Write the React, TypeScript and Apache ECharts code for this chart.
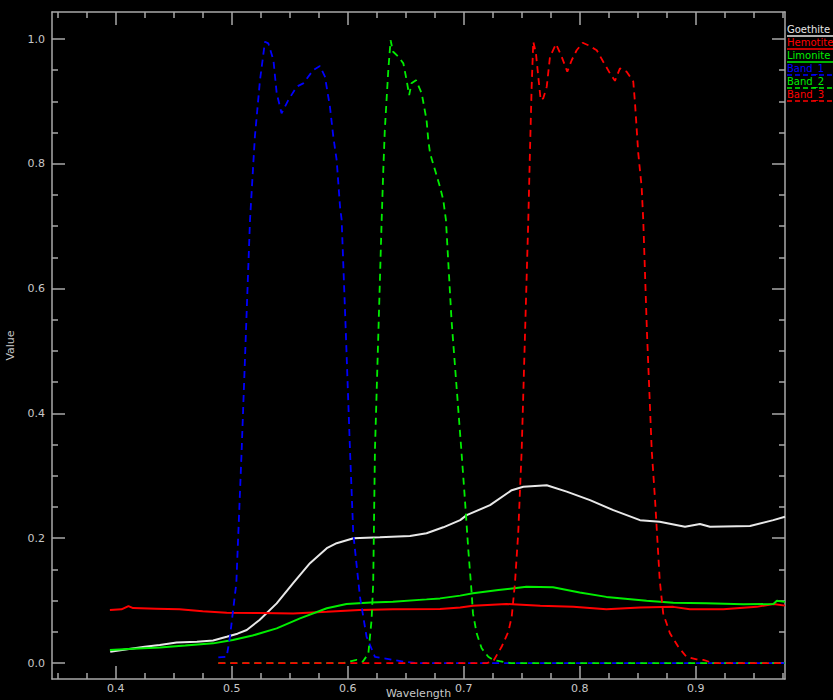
import React, { useEffect, useRef } from "react";
import * as echarts from "echarts";

// ---- data ----
const SERIES_NAMES = ["Goethite", "Hemotite", "Limonite", "Band_1", "Band_2", "Band_3"];

const X_MAJOR = [0.4, 0.5, 0.6, 0.7, 0.8, 0.9];
const X_MINOR = [0.35, 0.375, 0.425, 0.45, 0.475, 0.525, 0.55, 0.575, 0.625, 0.65, 0.675, 0.725, 0.75, 0.775, 0.825, 0.85, 0.875, 0.925, 0.95, 0.975];
const Y_MAJOR = [0.0, 0.2, 0.4, 0.6, 0.8, 1.0];
const Y_MINOR = [0.05, 0.1, 0.15, 0.25, 0.3, 0.35, 0.45, 0.5, 0.55, 0.65, 0.7, 0.75, 0.85, 0.9, 0.95];
const X_RANGE = [0.3451, 0.977];
const Y_RANGE = [-0.0256, 1.0433];

const GOETHITE = [
  [0.3953, 0.018], [0.41, 0.022], [0.425, 0.026], [0.438, 0.029], [0.4525, 0.033], [0.47, 0.034],
  [0.484, 0.036], [0.4957, 0.042], [0.505, 0.047], [0.513, 0.053], [0.524, 0.069], [0.5388, 0.0956],
  [0.553, 0.128], [0.5675, 0.16], [0.582, 0.184], [0.5905, 0.192], [0.605, 0.2], [0.6278, 0.2014],
  [0.6537, 0.2035], [0.668, 0.208], [0.6824, 0.2175], [0.697, 0.229], [0.7026, 0.237], [0.7227, 0.253],
  [0.7414, 0.277], [0.7514, 0.2826], [0.7716, 0.285], [0.7888, 0.2746], [0.8089, 0.261], [0.829, 0.245],
  [0.852, 0.229], [0.869, 0.2265], [0.8908, 0.2185], [0.9037, 0.2228], [0.9123, 0.2185], [0.9468, 0.2196],
  [0.9669, 0.229], [0.977, 0.2345],
];

const HEMOTITE = [
  [0.395, 0.085], [0.405, 0.086], [0.411, 0.0913], [0.415, 0.088], [0.435, 0.087], [0.455, 0.086],
  [0.475, 0.083], [0.4957, 0.0806], [0.525, 0.08], [0.553, 0.0795], [0.582, 0.082], [0.61, 0.085],
  [0.639, 0.086], [0.6796, 0.0865], [0.697, 0.089], [0.708, 0.0918], [0.737, 0.0946], [0.766, 0.0918],
  [0.7945, 0.09], [0.823, 0.086], [0.852, 0.089], [0.8807, 0.09], [0.895, 0.086], [0.9238, 0.086],
  [0.9526, 0.09], [0.967, 0.0946], [0.977, 0.092],
];

const LIMONITE = [
  [0.395, 0.021], [0.415, 0.023], [0.438, 0.025], [0.46, 0.028], [0.484, 0.0315], [0.501, 0.037],
  [0.518, 0.044], [0.5388, 0.0555], [0.5589, 0.0716], [0.582, 0.0877], [0.599, 0.0946], [0.62, 0.097],
  [0.639, 0.0983], [0.668, 0.102], [0.6796, 0.1036], [0.697, 0.108], [0.708, 0.1117], [0.73, 0.117],
  [0.754, 0.1223], [0.777, 0.1213], [0.8, 0.113], [0.823, 0.106], [0.8577, 0.0998], [0.8807, 0.0966],
  [0.909, 0.0956], [0.941, 0.094], [0.967, 0.0946], [0.97, 0.0998], [0.977, 0.098],
];

const BAND_1 = [
  [0.4885, 0.009], [0.4957, 0.01], [0.4985, 0.042], [0.504, 0.128], [0.5086, 0.341], [0.5158, 0.71],
  [0.52, 0.8435], [0.5244, 0.934], [0.5287, 0.9957], [0.5316, 0.993], [0.536, 0.966], [0.5388, 0.913],
  [0.543, 0.881], [0.5488, 0.902], [0.556, 0.9236], [0.5617, 0.929], [0.5703, 0.9503], [0.5761, 0.9567],
  [0.5804, 0.9396], [0.5847, 0.8915], [0.5876, 0.8435], [0.5905, 0.806], [0.5934, 0.7316], [0.5948, 0.71],
  [0.598, 0.55], [0.602, 0.341], [0.6048, 0.208], [0.6106, 0.106], [0.6163, 0.042], [0.6235, 0.01],
  [0.6365, 0.006], [0.648, 0.002], [0.66, 0], [0.977, 0],
];

const BAND_2 = [
  [0.4885, 0], [0.596, 0], [0.6077, 0.005], [0.613, 0.002], [0.6178, 0.015], [0.6206, 0.069],
  [0.622, 0.128], [0.6235, 0.341], [0.6293, 0.71], [0.6307, 0.79], [0.632, 0.854], [0.635, 0.95],
  [0.637, 0.998], [0.639, 0.98], [0.6435, 0.972], [0.648, 0.961], [0.6508, 0.934], [0.653, 0.91],
  [0.655, 0.929], [0.6589, 0.934], [0.6638, 0.913], [0.668, 0.87], [0.6695, 0.838], [0.671, 0.817],
  [0.6753, 0.79], [0.6796, 0.763], [0.6824, 0.742], [0.6847, 0.71], [0.6895, 0.55], [0.698, 0.341],
  [0.7011, 0.261], [0.704, 0.181], [0.7069, 0.1117], [0.708, 0.0795], [0.7112, 0.0476], [0.7155, 0.0236],
  [0.7212, 0.01], [0.7255, 0.005], [0.731, 0.003], [0.74, 0], [0.977, 0],
];

const BAND_3 = [
  [0.4885, 0], [0.72, 0], [0.7255, 0.003], [0.7327, 0.026], [0.7385, 0.05], [0.7414, 0.074],
  [0.7442, 0.128], [0.747, 0.208], [0.75, 0.341], [0.7557, 0.71], [0.7571, 0.817], [0.7586, 0.9236],
  [0.76, 0.9957], [0.7623, 0.977], [0.7643, 0.94], [0.7664, 0.902], [0.7686, 0.905], [0.7716, 0.9236],
  [0.7744, 0.9716], [0.7796, 0.992], [0.7845, 0.9716], [0.7893, 0.9476], [0.7931, 0.966], [0.7974, 0.982],
  [0.8026, 0.994], [0.8074, 0.99], [0.8147, 0.982], [0.8203, 0.9636], [0.8261, 0.945], [0.8304, 0.933],
  [0.8347, 0.953], [0.8405, 0.9476], [0.8462, 0.932], [0.8477, 0.897], [0.8505, 0.817], [0.8534, 0.763],
  [0.8548, 0.71], [0.858, 0.53], [0.8621, 0.341], [0.865, 0.261], [0.869, 0.133], [0.872, 0.0795],
  [0.8778, 0.0476], [0.885, 0.026], [0.892, 0.01], [0.9008, 0.006], [0.9066, 0.005], [0.915, 0], [0.977, 0],
];

const SERIES_DATA = [GOETHITE, HEMOTITE, LIMONITE, BAND_1, BAND_2, BAND_3];

// ---- styles ----
const COLORS = ["#e8e8e8", "#ff0000", "#00ee00", "#0000ff", "#00ee00", "#ff0000"];
const DASHED = [false, false, false, true, true, true];
const AXIS_COLOR = "#a8a8a8";
const TEXT_COLOR = "#c8c8c8";
const FONT = "DejaVu Sans";

export default function App() {
  const ref = useRef<HTMLDivElement>(null);

  useEffect(() => {
    document.body.style.margin = "0";
    document.body.style.background = "#000";
    if (!ref.current) return;
    const chart = echarts.init(ref.current, null, { renderer: "svg" });

    const baseX = (extra: any) => ({
      type: "value",
      min: X_RANGE[0],
      max: X_RANGE[1],
      gridIndex: 0,
      splitLine: { show: false },
      ...extra,
    });
    const baseY = (extra: any) => ({
      type: "value",
      min: Y_RANGE[0],
      max: Y_RANGE[1],
      gridIndex: 0,
      splitLine: { show: false },
      ...extra,
    });
    const line = { show: true, onZero: false, lineStyle: { color: AXIS_COLOR, width: 1.5 } };
    const noLine = { show: false, onZero: false };
    const majorTick = (vals: number[]) => ({
      show: true, inside: true, length: 13, customValues: vals,
      lineStyle: { color: AXIS_COLOR, width: 1.5 },
    });
    const minorTick = (vals: number[]) => ({
      show: true, inside: true, length: 6, customValues: vals,
      lineStyle: { color: AXIS_COLOR, width: 1.5 },
    });
    const noLabel = { show: false };

    const legendGraphics: any[] = [];
    SERIES_NAMES.forEach((name, i) => {
      legendGraphics.push({
        type: "text",
        left: 787,
        top: 24 + i * 13,
        style: { text: name, fill: COLORS[i], font: `10px "${FONT}"` },
      });
      legendGraphics.push({
        type: "line",
        shape: { x1: 787, y1: 36 + i * 13, x2: 833, y2: 36 + i * 13 },
        style: { stroke: COLORS[i], lineWidth: 1.5, lineDash: DASHED[i] ? [5, 3] : null },
      });
    });

    const option: any = {
      animation: false,
      backgroundColor: "#000",
      textStyle: { fontFamily: FONT },
      grid: { left: 52, right: 48, top: 12, bottom: 21, containLabel: false, outerBoundsMode: "none" },
      xAxis: [
        baseX({
          position: "bottom",
          axisLine: line,
          axisTick: majorTick(X_MAJOR),
          axisLabel: {
            show: true, customValues: X_MAJOR, color: TEXT_COLOR, fontSize: 11, margin: 4,
            fontFamily: FONT, formatter: (v: number) => v.toFixed(1),
          },
          name: "Wavelength",
          nameLocation: "middle",
          nameGap: 9,
          nameMoveOverlap: false,
          nameTextStyle: { color: TEXT_COLOR, fontSize: 11, fontFamily: FONT },
        }),
        baseX({ position: "bottom", axisLine: noLine, axisTick: minorTick(X_MINOR), axisLabel: noLabel }),
        baseX({ position: "top", axisLine: line, axisTick: majorTick(X_MAJOR), axisLabel: noLabel }),
        baseX({ position: "top", axisLine: noLine, axisTick: minorTick(X_MINOR), axisLabel: noLabel }),
      ],
      yAxis: [
        baseY({
          position: "left",
          axisLine: line,
          axisTick: majorTick(Y_MAJOR),
          axisLabel: {
            show: true, customValues: Y_MAJOR, color: TEXT_COLOR, fontSize: 11, margin: 7,
            fontFamily: FONT, formatter: (v: number) => v.toFixed(1),
          },
          name: "Value",
          nameLocation: "middle",
          nameGap: 36,
          nameRotate: 90,
          nameMoveOverlap: false,
          nameTextStyle: { color: TEXT_COLOR, fontSize: 11, fontFamily: FONT },
        }),
        baseY({ position: "left", axisLine: noLine, axisTick: minorTick(Y_MINOR), axisLabel: noLabel }),
        baseY({ position: "right", axisLine: line, axisTick: majorTick(Y_MAJOR), axisLabel: noLabel }),
        baseY({ position: "right", axisLine: noLine, axisTick: minorTick(Y_MINOR), axisLabel: noLabel }),
      ],
      series: SERIES_NAMES.map((name, i) => ({
        name,
        type: "line",
        xAxisIndex: 0,
        yAxisIndex: 0,
        data: SERIES_DATA[i],
        showSymbol: false,
        symbol: "none",
        smooth: false,
        clip: true,
        lineStyle: {
          color: COLORS[i],
          width: DASHED[i] ? 1.8 : 2,
          type: DASHED[i] ? [7, 5] : "solid",
        },
        z: 2 + i,
      })),
      graphic: legendGraphics,
    };

    chart.setOption(option);
    return () => chart.dispose();
  }, []);

  return <div ref={ref} style={{ width: 833, height: 700, background: "#000" }} />;
}
